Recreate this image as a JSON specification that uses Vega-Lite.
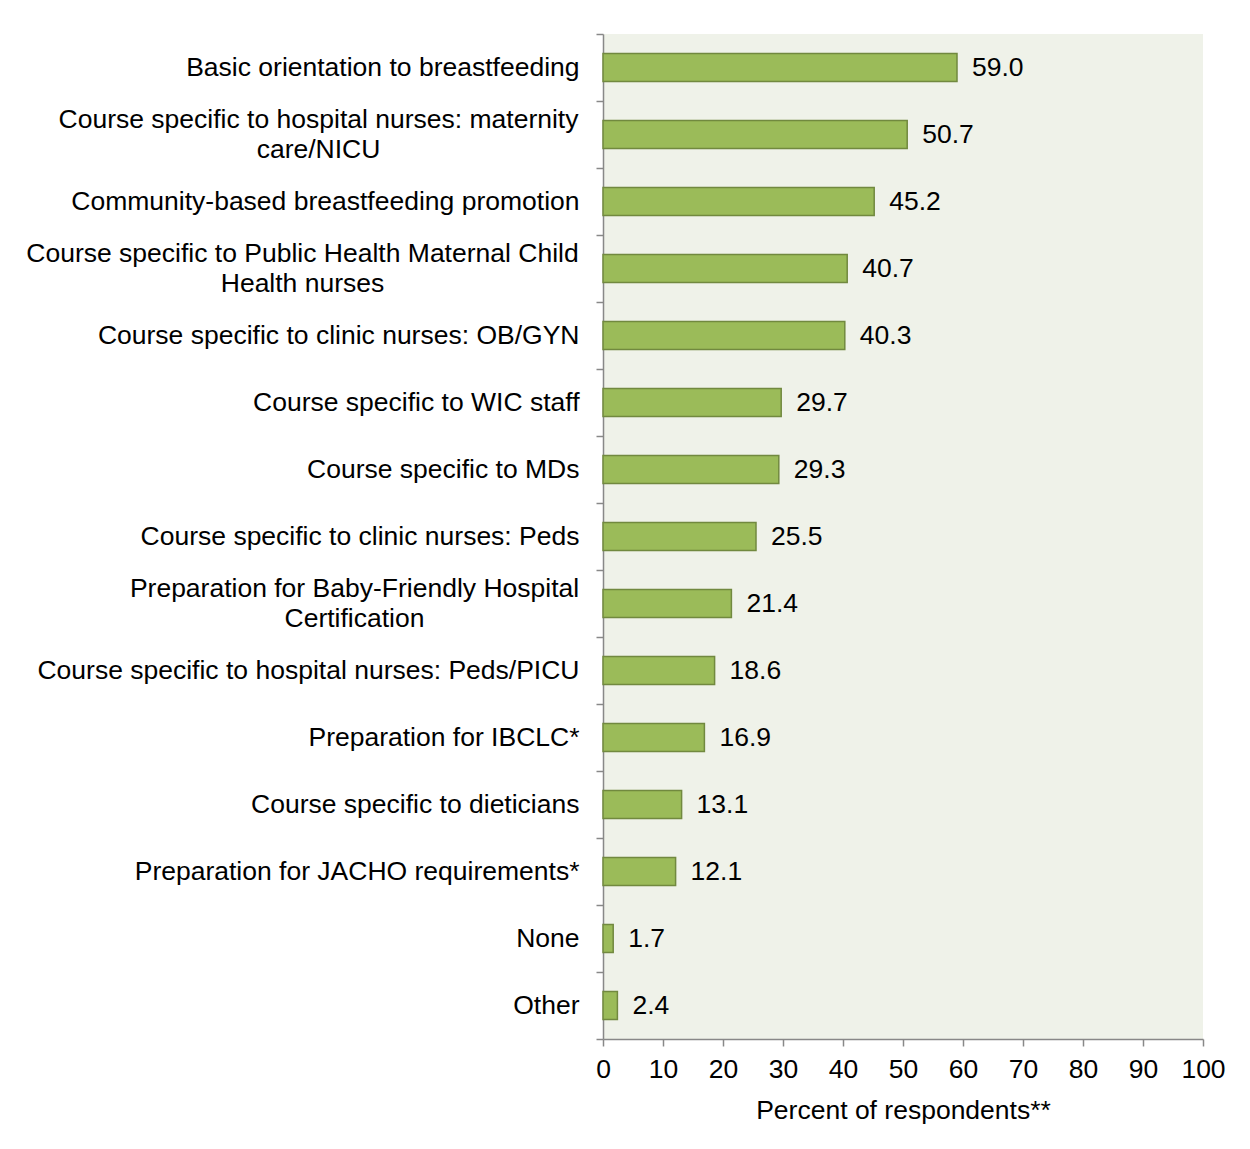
{
  "$schema": "https://vega.github.io/schema/vega-lite/v6.json",
  "autosize": {"type": "none"},
  "width": 600,
  "height": 1005,
  "padding": {"left": 603, "top": 34, "right": 47, "bottom": 110},
  "background": "white",
  "config": {
    "font": "Liberation Sans",
    "view": {"fill": "#EFF2E9", "stroke": null}
  },
  "data": {
    "values": [
      {"category": "Basic orientation to breastfeeding", "pct": 59.0},
      {"category": "Course specific to hospital nurses: maternity|care/NICU", "pct": 50.7},
      {"category": "Community-based breastfeeding promotion", "pct": 45.2},
      {"category": "Course specific to Public Health Maternal Child|Health nurses", "pct": 40.7},
      {"category": "Course specific to clinic nurses: OB/GYN", "pct": 40.3},
      {"category": "Course specific to WIC staff", "pct": 29.7},
      {"category": "Course specific to MDs", "pct": 29.3},
      {"category": "Course specific to clinic nurses: Peds", "pct": 25.5},
      {"category": "Preparation for Baby-Friendly Hospital|Certification", "pct": 21.4},
      {"category": "Course specific to hospital nurses: Peds/PICU", "pct": 18.6},
      {"category": "Preparation for IBCLC*", "pct": 16.9},
      {"category": "Course specific to dieticians", "pct": 13.1},
      {"category": "Preparation for JACHO requirements*", "pct": 12.1},
      {"category": "None", "pct": 1.7},
      {"category": "Other", "pct": 2.4}
    ]
  },
  "encoding": {
    "y": {
      "field": "category",
      "type": "nominal",
      "sort": null,
      "scale": {"paddingInner": 0, "paddingOuter": 0},
      "axis": {
        "title": null,
        "tickBand": "extent",
        "tickSize": 7,
        "tickColor": "#888888",
        "domainColor": "#888888",
        "domainWidth": 1.5,
        "tickWidth": 1.5,
        "labelPadding": {
          "condition": [
            {"test": "datum.value === 'Course specific to hospital nurses: maternity|care/NICU'", "value": 278},
            {"test": "datum.value === 'Course specific to Public Health Maternal Child|Health nurses'", "value": 294},
            {"test": "datum.value === 'Preparation for Baby-Friendly Hospital|Certification'", "value": 242}
          ],
          "value": 17
        },
        "labelAlign": {
          "condition": {"test": "isValid(datum.value) && indexof(datum.value, '|') >= 0", "value": "center"},
          "value": "right"
        },
        "labelOffset": {
          "condition": {"test": "isValid(datum.value) && indexof(datum.value, '|') >= 0", "value": -15},
          "value": 0
        },
        "labelFontSize": 26.5,
        "labelColor": "#000000",
        "labelLimit": 700,
        "labelLineHeight": 30,
        "labelExpr": "isValid(datum.value) ? split(datum.value, '|') : ''"
      }
    }
  },
  "layer": [
    {
      "mark": {"type": "bar", "fill": "#9BBB59", "stroke": "#71893F", "strokeWidth": 1.5, "height": {"band": 0.42}},
      "encoding": {
        "x": {
          "field": "pct",
          "type": "quantitative",
          "scale": {"domain": [0, 100], "nice": false},
          "axis": {
            "title": "Percent of respondents**",
            "titleFontSize": 26.5,
            "titleFontWeight": "normal",
            "titleColor": "#000000",
            "titlePadding": 15,
            "values": [0, 10, 20, 30, 40, 50, 60, 70, 80, 90, 100],
            "grid": false,
            "tickSize": 7,
            "tickColor": "#888888",
            "tickWidth": 1.5,
            "domainColor": "#888888",
            "domainWidth": 1.5,
            "labelFontSize": 26.5,
            "labelColor": "#000000",
            "labelPadding": 10,
            "labelFlush": false
          }
        }
      }
    },
    {
      "mark": {"type": "text", "align": "left", "baseline": "middle", "dx": 15, "fontSize": 26.5, "color": "#000000"},
      "encoding": {
        "x": {"field": "pct", "type": "quantitative"},
        "text": {"field": "pct", "type": "quantitative", "format": ".1f"}
      }
    }
  ]
}
